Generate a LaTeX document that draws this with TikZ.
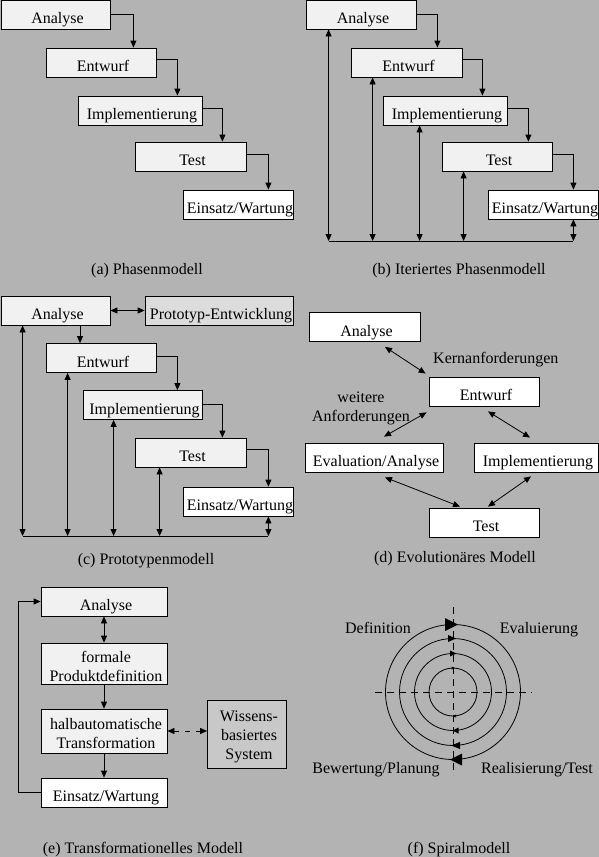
\documentclass[tikz,border=0pt]{standalone}
\usepackage{fontspec}
\setmainfont{Liberation Serif}
\usetikzlibrary{arrows.meta,calc}
\definecolor{bg}{RGB}{179,179,179}
\definecolor{boxfill}{RGB}{241,241,241}
\definecolor{protofill}{RGB}{220,220,220}
\definecolor{wissfill}{RGB}{200,200,200}
\begin{document}
\begin{tikzpicture}[x=1pt,y=-1pt,
  bx/.style={draw=black, line width=0.8pt, fill=boxfill, minimum height=29pt, inner sep=0pt},
  wbx/.style={bx, fill=white},
  tx/.style={font=\fontsize{16}{19}\selectfont, inner sep=0pt, text height=11.5pt, text depth=3.5pt, xshift=2pt, yshift=-5pt},
  txm/.style={font=\fontsize{16}{19}\selectfont, inner sep=0pt, align=center, xshift=2pt, yshift=-3pt},
  captxt/.style={font=\fontsize{16}{19}\selectfont, inner sep=0pt, anchor=base},
  ln/.style={line width=0.8pt},
  arr/.style={ln, -{Triangle[length=7pt,width=6pt]}},
  dbl/.style={ln, {Triangle[length=7pt,width=6pt]}-{Triangle[length=7pt,width=6pt]}},
  axisline/.style={line width=0.8pt, dash pattern=on 7pt off 5pt},
  ring/.style={line width=0.8pt}
]
\fill[bg] (0,0) rectangle (599,857);
\useasboundingbox (0,0) rectangle (599,857);

% ---------------- (a) Phasenmodell
\node[bx, minimum width=109pt] (a1) at (55.5,14.5) {};
\node[tx] (a1t) at (a1) {Analyse};
\node[bx, minimum width=110pt] (a2) at (101,62.5) {};
\node[tx] (a2t) at (a2) {Entwurf};
\node[bx, minimum width=124pt] (a3) at (140,110.5) {};
\node[tx] (a3t) at (a3) {Implementierung};
\node[bx, minimum width=111pt] (a4) at (190.5,156.5) {};
\node[tx] (a4t) at (a4) {Test};
\node[wbx, minimum width=110pt] (a5) at (238,204.5) {};
\node[tx] (a5t) at (a5) {Einsatz/Wartung};
\draw[arr] (a1.east) -| ([xshift=-23pt]a2.north east);
\draw[arr] ([yshift=3pt]a2.east) -| ([xshift=-25pt]a3.north east);
\draw[arr] ([yshift=2pt]a3.east) -| ([xshift=-24pt]a4.north east);
\draw[arr] ([yshift=2pt]a4.east) -| ([xshift=-25pt]a5.north east);
\node[captxt] (acap) at (147,274) {(a) Phasenmodell};

% ---------------- (b) Iteriertes Phasenmodell
\node[bx, minimum width=110pt] (b1) at (361,14.5) {};
\node[tx] (b1t) at (b1) {Analyse};
\node[bx, minimum width=111pt] (b2) at (406.5,62.5) {};
\node[tx] (b2t) at (b2) {Entwurf};
\node[bx, minimum width=124pt] (b3) at (445,110.5) {};
\node[tx] (b3t) at (b3) {Implementierung};
\node[bx, minimum width=110pt] (b4) at (497,156.5) {};
\node[tx] (b4t) at (b4) {Test};
\node[wbx, minimum width=110pt] (b5) at (543,204.5) {};
\node[tx] (b5t) at (b5) {Einsatz/Wartung};
\draw[arr] (b1.east) -| ([xshift=-25pt]b2.north east);
\draw[arr] ([yshift=3pt]b2.east) -| ([xshift=-25pt]b3.north east);
\draw[arr] ([yshift=2pt]b3.east) -| ([xshift=-24pt]b4.north east);
\draw[arr] ([yshift=2pt]b4.east) -| ([xshift=-25pt]b5.north east);
\coordinate (bbase) at (329,241);
\coordinate (bv1) at ([xshift=23pt]b1.south west);
\coordinate (bv2) at ([xshift=22pt]b2.south west);
\coordinate (bv3) at ([xshift=37pt]b3.south west);
\coordinate (bv4) at ([xshift=22pt]b4.south west);
\coordinate (bv5) at ([xshift=-25pt]b5.south east);
\draw[dbl] (bv1) -- (bv1 |- bbase);
\draw[dbl] (bv2) -- (bv2 |- bbase);
\draw[dbl] (bv3) -- (bv3 |- bbase);
\draw[dbl] (bv4) -- (bv4 |- bbase);
\draw[dbl] (bv5) -- (bv5 |- bbase);
\draw[ln] (bv1 |- bbase) -- (bv5 |- bbase);
\node[captxt] (bcap) at (459,274) {(b) Iteriertes Phasenmodell};

% ---------------- (c) Prototypenmodell
\node[bx, minimum width=109pt] (c1) at (55.5,310.5) {};
\node[tx] (c1t) at (c1) {Analyse};
\node[bx, minimum width=148pt, fill=protofill] (c0) at (219,310.5) {};
\node[tx] (c0t) at (c0) {Prototyp-Entwicklung};
\node[bx, minimum width=110pt] (c2) at (101,358) {};
\node[tx] (c2t) at (c2) {Entwurf};
\node[bx, minimum width=119pt] (c3) at (142.5,405) {};
\node[tx] (c3t) at (c3) {Implementierung};
\node[bx, minimum width=111pt] (c4) at (190.5,452.5) {};
\node[tx] (c4t) at (c4) {Test};
\node[wbx, minimum width=110pt] (c5) at (238,501.5) {};
\node[tx] (c5t) at (c5) {Einsatz/Wartung};
\draw[dbl] (c1.east) -- (c0.west);
\draw[arr] ([xshift=24.5pt]c1.south) -- ([xshift=24.5pt]c1.south |- c2.north);
\draw[arr] ([yshift=2pt]c2.east) -| ([xshift=-25pt]c3.north east);
\draw[arr] ([yshift=1pt]c3.east) -| ([xshift=-24pt]c4.north east);
\draw[arr] ([yshift=3pt]c4.east) -| ([xshift=-25pt]c5.north east);
\coordinate (cbase) at (23,536);
\coordinate (cv1) at ([xshift=22pt]c1.south west);
\coordinate (cv2) at ([xshift=22pt]c2.south west);
\coordinate (cv3) at ([xshift=31pt]c3.south west);
\coordinate (cv4) at ([xshift=25pt]c4.south west);
\coordinate (cv5) at ([xshift=-25pt]c5.south east);
\draw[dbl] (cv1) -- (cv1 |- cbase);
\draw[dbl] (cv2) -- (cv2 |- cbase);
\draw[dbl] (cv3) -- (cv3 |- cbase);
\draw[dbl] (cv4) -- (cv4 |- cbase);
\draw[dbl] (cv5) -- (cv5 |- cbase);
\draw[ln] (cv1 |- cbase) -- (cv5 |- cbase);
\node[captxt] (ccap) at (146,564) {(c) Prototypenmodell};

% ---------------- (d) Evolutionaeres Modell
\node[wbx, minimum width=111pt] (d1) at (364.5,327) {};
\node[tx] (d1t) at (d1) {Analyse};
\node[wbx, minimum width=110pt] (d2) at (484,391.5) {};
\node[tx] (d2t) at (d2) {Entwurf};
\node[wbx, minimum width=138pt] (d3) at (374,457.5) {};
\node[tx] (d3t) at (d3) {Evaluation/Analyse};
\node[wbx, minimum width=124pt] (d4) at (536,457.5) {};
\node[tx] (d4t) at (d4) {Implementierung};
\node[wbx, minimum width=110pt] (d5) at (484,522.5) {};
\node[tx] (d5t) at (d5) {Test};
\draw[dbl] ([xshift=20.5pt,yshift=-5pt]d1.south) -- ([xshift=-3pt,yshift=3pt]d2.north west);
\draw[dbl] ([xshift=-2pt,yshift=-6pt]d2.south west) -- ([xshift=10pt,yshift=6pt]d3.north);
\draw[dbl] ([xshift=4pt,yshift=-5pt]d2.south) -- ([xshift=-6pt,yshift=5pt]d4.north);
\draw[dbl] ([xshift=11pt,yshift=-5pt]d3.south) -- ([xshift=-24pt,yshift=1pt]d5.north);
\draw[dbl] ([xshift=-5pt,yshift=-4pt]d4.south) -- ([xshift=4pt,yshift=1pt]d5.north);
\node[captxt, anchor=base west] (kern) at (433,363) {Kernanforderungen};
\node[captxt, align=center] (weit) at (361,421) {weitere\\Anforderungen};
\node[captxt] (dcap) at (455,562) {(d) Evolutionäres Modell};

% ---------------- (e) Transformationelles Modell
\node[bx, minimum width=126pt] (e1) at (104,601.5) {};
\node[tx] (e1t) at (e1) {Analyse};
\node[bx, minimum width=126pt, minimum height=41pt] (e2) at (104,663.5) {};
\node[txm] (e2t) at (e2) {formale\\Produktdefinition};
\node[bx, minimum width=126pt, minimum height=44pt] (e3) at (104,731) {};
\node[txm] (e3t) at (e3) {halbautomatische\\Transformation};
\node[wbx, minimum width=126pt] (e4) at (104,792.5) {};
\node[tx] (e4t) at (e4) {Einsatz/Wartung};
\node[bx, minimum width=79pt, minimum height=68pt, fill=wissfill] (e5) at (247,734) {};
\node[txm] (e5t) at (e5) {Wissens-\\basiertes\\System};
\draw[dbl] (e1.south) -- (e2.north);
\draw[arr] (e2.south) -- (e3.north);
\draw[arr] (e3.south) -- (e4.north);
\draw[arr] (e4.west) -- ++(-22,0) |- (e1.west);
\draw[dbl, dash pattern=on 5pt off 6pt] (e3.east) -- (e3.east -| e5.west);
\node[captxt] (ecap) at (143,853) {(e) Transformationelles Modell};

% ---------------- (f) Spiralmodell
\coordinate (sc) at (453,692);
\draw[axisline] ([xshift=-78pt]sc) -- ([xshift=79pt]sc);
\draw[axisline] ([yshift=85pt]sc) -- ([yshift=-83pt]sc);
\draw[ring] (sc) circle[radius=67.5];
\draw[ring] (sc) circle[radius=53.5];
\draw[ring] (sc) circle[radius=38.5];
\draw[ring] (sc) circle[radius=24];
% arrowheads, top (pointing right)
\fill (445,618) -- (458,624.5) -- (445,631) -- cycle;
\fill (448,635) -- (456,638.5) -- (448,642) -- cycle;
\fill (450,650.5) -- (456.5,653.5) -- (450,656.5) -- cycle;
\fill (451.5,666.5) -- (455,668) -- (451.5,669.5) -- cycle;
% arrowheads, bottom (pointing left)
\fill (462,753.5) -- (450,759.5) -- (462,765.5) -- cycle;
\fill (460,742) -- (451,745.5) -- (460,749) -- cycle;
\fill (458.5,727.5) -- (452.5,730.5) -- (458.5,733.5) -- cycle;
\fill (456,714.5) -- (452.5,716) -- (456,717.5) -- cycle;
\node[captxt] (fdef) at (378,633) {Definition};
\node[captxt] (feva) at (539,633) {Evaluierung};
\node[captxt] (fbew) at (376,773) {Bewertung/Planung};
\node[captxt] (freal) at (537,773) {Realisierung/Test};
\node[captxt] (fcap) at (459,853) {(f) Spiralmodell};
\end{tikzpicture}
\end{document}
